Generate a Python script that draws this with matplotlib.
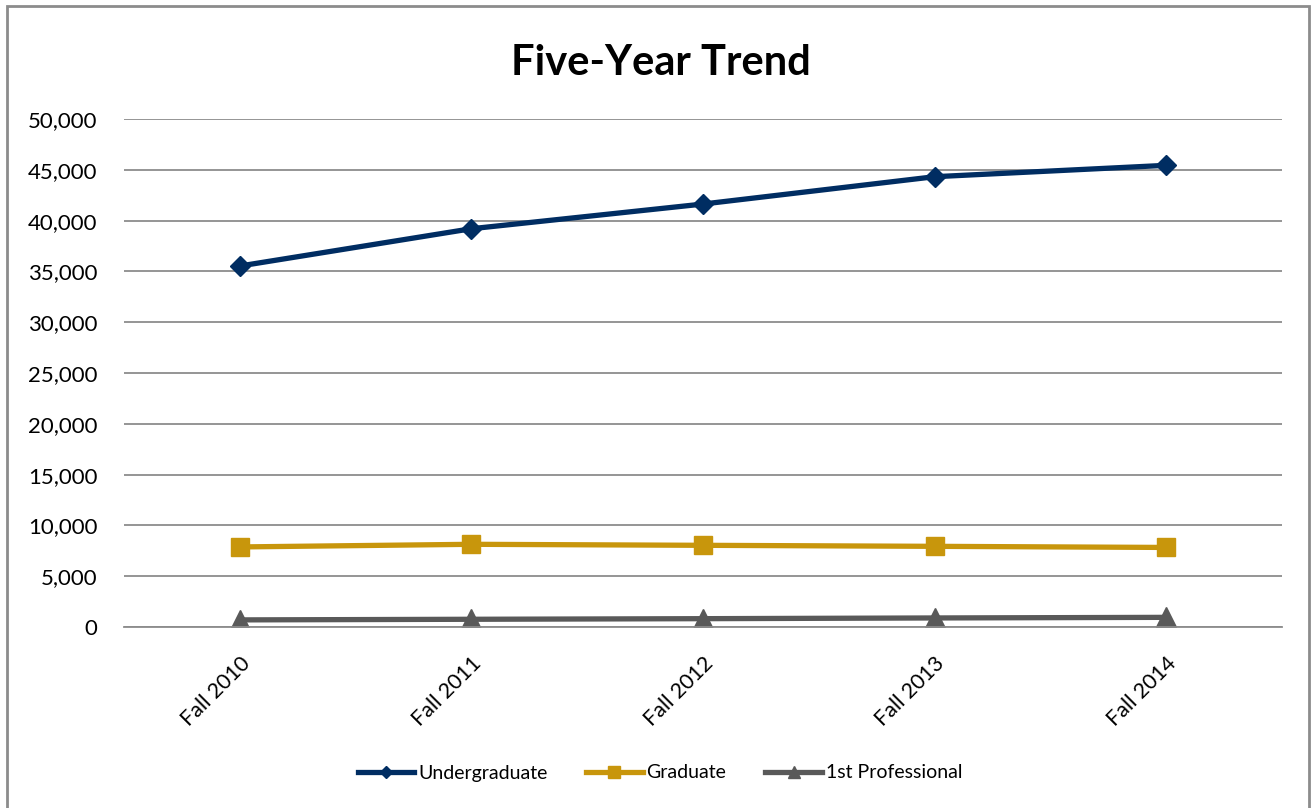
import matplotlib
matplotlib.use("Agg")
import matplotlib.pyplot as plt
from matplotlib.lines import Line2D
from matplotlib.ticker import FuncFormatter

terms = ["Fall 2010", "Fall 2011", "Fall 2012", "Fall 2013", "Fall 2014"]
undergrad = [35530, 39200, 41630, 44320, 45440]
graduate = [7880, 8140, 8040, 7940, 7830]
first_prof = [700, 760, 820, 890, 950]

plt.rcParams['font.family'] = ['Lato', 'DejaVu Sans']

fig = plt.figure(figsize=(13.12, 8.08), dpi=100)
ax = fig.add_axes([124 / 1312, 1 - 627 / 808, (1282 - 124) / 1312, (627 - 119) / 808])

x = range(len(terms))
ax.plot(x, undergrad, color="#002D62", lw=3.8, marker="D", ms=10.5, label="Undergraduate")
ax.plot(x, graduate, color="#C8960C", lw=3.8, marker="s", ms=13, label="Graduate")
ax.plot(x, first_prof, color="#595959", lw=3.8, marker="^", ms=14, label="1st Professional")

ax.set_xlim(-0.5, len(terms) - 0.5)
ax.set_ylim(0, 50000)
ax.set_yticks(range(0, 50001, 5000))
ax.yaxis.set_major_formatter(FuncFormatter(lambda v, p: f"{int(v):,}"))
ax.grid(axis="y", color="#8C8C8C", lw=1.3)
ax.set_axisbelow(True)
for s in ["top", "right", "left"]:
    ax.spines[s].set_visible(False)
ax.spines["bottom"].set_color("#8C8C8C")
ax.spines["bottom"].set_linewidth(1.3)
ax.tick_params(axis="y", length=0, pad=19, labelsize=16, colors="black")
ax.tick_params(axis="x", length=0, pad=19, labelsize=15.5)
ax.set_xticks(list(x))
ax.set_xticklabels(terms, rotation=45, ha="right", rotation_mode="anchor")

fig.text(0.504, 1 - 63 / 808, "Five-Year Trend", ha="center", va="center",
         fontsize=30, fontweight="bold")

handles = [Line2D([], [], color="#002D62", lw=3.8, marker="D", ms=6),
           Line2D([], [], color="#C8960C", lw=3.8, marker="s", ms=8),
           Line2D([], [], color="#595959", lw=3.8, marker="^", ms=8)]
fig.legend(handles, ["Undergraduate", "Graduate", "1st Professional"],
           loc="center", bbox_to_anchor=(0.503, 1 - 773 / 808), ncol=3,
           frameon=False, fontsize=14, handlelength=2.9, handletextpad=0.2,
           columnspacing=2.0)

# chart border
fig.add_artist(plt.Rectangle((7 / 1312, -0.05), (1309 - 7) / 1312, 1.05 - 6 / 808,
                             transform=fig.transFigure, fill=False,
                             edgecolor="#8C8C8C", lw=2))

fig.savefig("out.png", dpi=100)
